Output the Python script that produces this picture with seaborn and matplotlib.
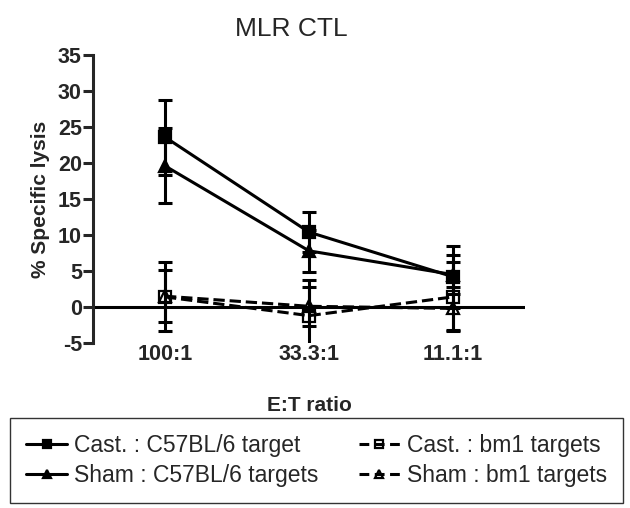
import numpy as np
import pandas as pd
import matplotlib
matplotlib.use("Agg")
import matplotlib.pyplot as plt
import seaborn as sns


# =========================
# Data
# =========================

ratios = ["100:1", "33.3:1", "11.1:1"]

series_names = [
    "Cast. : C57BL/6 target",
    "Sham : C57BL/6 targets",
    "Cast. : bm1 targets",
    "Sham : bm1 targets",
]

cast_c57 = [23.6, 10.4, 4.2]
cast_c57_err = [5.2, 2.8, 4.3]

sham_c57 = [19.6, 7.8, 4.5]
sham_c57_err = [5.2, 2.9, 2.7]

cast_bm1 = [1.4, -1.2, 1.4]
cast_bm1_err = [4.8, 4.9, 4.8]

sham_bm1 = [1.5, 0.1, -0.2]
sham_bm1_err = [3.6, 2.7, 3.0]

yticks = [-5, 0, 5, 10, 15, 20, 25, 30, 35]


# =========================
# Style
# =========================

sns.set_style("ticks")
plt.rcParams["font.family"] = ["Liberation Sans", "DejaVu Sans"]
plt.rcParams["axes.unicode_minus"] = False

LW = 2.2
styles = [
    dict(marker="s", linestyle="-", mfc="k"),
    dict(marker="^", linestyle="-", mfc="k"),
    dict(marker="s", linestyle="--", mfc="none"),
    dict(marker="^", linestyle="--", mfc="none"),
]

# =========================
# Plot
# =========================

fig = plt.figure(figsize=(6.3, 5.08), dpi=100)
ax = fig.add_axes([0.1476, 0.3248, 0.6857, 0.5669])

x = np.arange(len(ratios))
values = [cast_c57, sham_c57, cast_bm1, sham_bm1]
errors = [cast_c57_err, sham_c57_err, cast_bm1_err, sham_bm1_err]

ax.axhline(0, color="k", lw=LW, zorder=1)

for name, vals, errs, st in zip(series_names, values, errors, styles):
    df = pd.DataFrame({"pos": x, "lysis": vals})
    sns.lineplot(data=df, x="pos", y="lysis", ax=ax, color="k", lw=LW,
                 marker=st["marker"], linestyle=st["linestyle"],
                 markerfacecolor=st["mfc"], markeredgecolor="k",
                 markeredgewidth=1.6, markersize=8, label=name, zorder=3)
    ax.errorbar(x, vals, yerr=errs, fmt="none", ecolor="k",
                elinewidth=LW, capsize=5, capthick=LW, zorder=2)

ax.set_xlim(-0.5, 2.5)
ax.set_ylim(-5, 35)
ax.set_yticks(yticks)
ax.set_xticks(x)
ax.set_xticklabels(ratios)

for lab in ax.get_xticklabels() + ax.get_yticklabels():
    lab.set_fontweight("bold")
    lab.set_fontsize(15.5)

ax.tick_params(axis="x", length=0, pad=1)
ax.tick_params(axis="y", length=7, width=LW, pad=1)

sns.despine(ax=ax, top=True, right=True, bottom=True)
ax.spines["left"].set_linewidth(LW)

ax.set_xlabel("E:T ratio", fontsize=15, fontweight="bold", labelpad=22)
ax.set_ylabel("% Specific lysis", fontsize=15, fontweight="bold", labelpad=6)
ax.set_title("MLR CTL", fontsize=19, pad=14, x=0.458)

handles, labels = ax.get_legend_handles_labels()
ax.get_legend().remove()
leg = fig.legend(handles, labels, loc="lower left", ncol=2,
                 bbox_to_anchor=(0.016, 0.01, 0.973, 0.163), mode="expand",
                 borderaxespad=0, fontsize=16.5, frameon=True, fancybox=False,
                 edgecolor="k", handlelength=1.8, handletextpad=0.3,
                 labelspacing=0.3, borderpad=0.7, columnspacing=1.0,
                 numpoints=1)
leg.get_frame().set_linewidth(1.0)
for h, st in zip(leg.legend_handles, styles):
    h.set_markersize(6)
    if st["linestyle"] == "--":
        h.set_linestyle((0, (3.2, 1.8)))

fig.savefig("out.png", dpi=100)
